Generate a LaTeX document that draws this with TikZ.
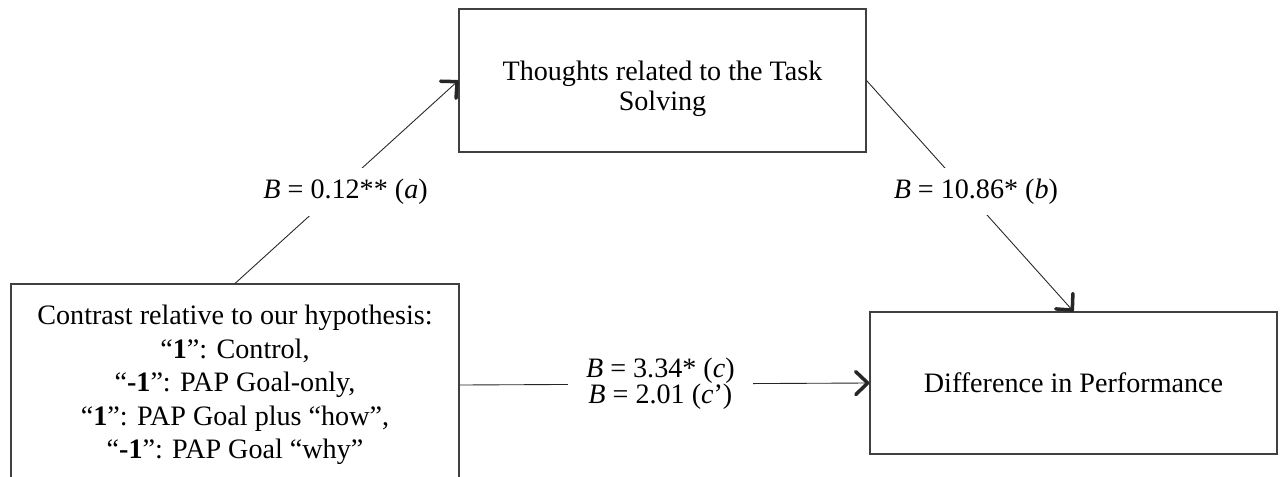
\documentclass[tikz,border=0pt]{standalone}
\usepackage{fontspec}
\setmainfont{Liberation Serif}
\usetikzlibrary{arrows.meta,positioning}
\tikzset{
  box/.style={draw=black!75, line width=0.6pt, align=center, inner sep=0pt},
  path/.style={draw=black!85, line width=0.5pt, -{Straight Barb[length=2.4mm,width=4.6mm,line width=2pt,round]}},
  coef/.style={fill=white, align=center, inner xsep=1.6mm, inner ysep=2.2mm, xshift=2mm}
}

\begin{document}
\begin{tikzpicture}[x=0.2mm, y=-0.2mm, every node/.style={font=\fontsize{16}{17}\selectfont}]
  \useasboundingbox (0,0) rectangle (1282,477);
  % the three variables
  \node[box, minimum width=8.14cm, minimum height=2.86cm] (med) at (662.5,80.5)
    {\rule{0pt}{7.2mm}Thoughts related to the Task\\Solving};
  \node[box, minimum width=8.96cm, minimum height=4.04cm, font=\fontsize{16}{19}\selectfont] (src) at (235,385)
    {Contrast relative to our hypothesis:\\
     “\textbf{1}”: Control,\\
     “\textbf{-1}”: PAP Goal-only,\\
     “\textbf{1}”: PAP Goal plus “how”,\\
     “\textbf{-1}”: PAP Goal “why”};
  \node[box, minimum width=8.14cm, minimum height=2.84cm] (out) at (1073.5,383)
    {Difference in Performance};
  % paths a, b, c
  \draw[path] (src.north) -- node[coef, pos=0.45] {\textit{B} = 0.12** (\textit{a})} (med.west);
  \draw[path] (med.east) -- node[coef, pos=0.48] {\textit{B} = 10.86* (\textit{b})} (out.north);
  \draw[path] (src.east) -- node[coef, pos=0.49, xshift=-2mm, inner xsep=3.6mm, font=\fontsize{16}{14.7}\selectfont] {\textit{B} = 3.34* (\textit{c})\\\textit{B} = 2.01 (\textit{c}’)} (out.west);
\end{tikzpicture}
\end{document}
